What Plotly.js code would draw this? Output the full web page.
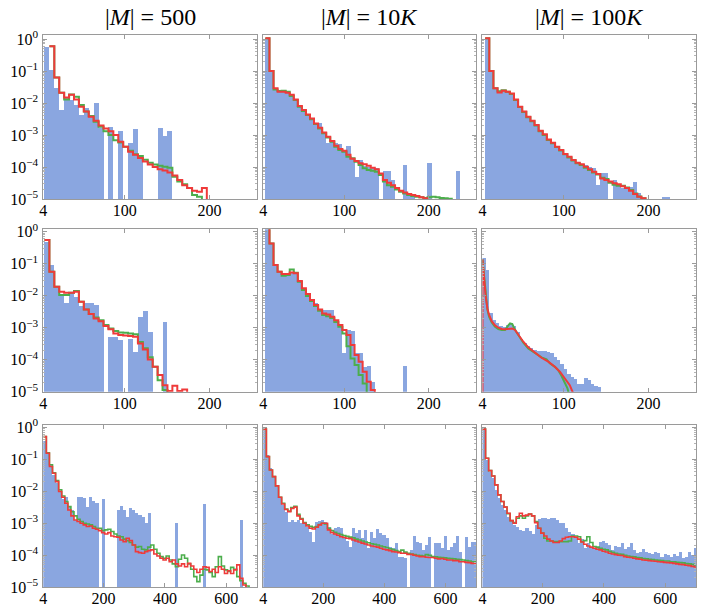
<!DOCTYPE html>
<html><head><meta charset="utf-8">
<script src="https://cdn.plot.ly/plotly-3.0.1.min.js"></script>
<style>html,body{margin:0;padding:0;background:#fff}#chart{width:713px;height:606px}</style>
</head><body><div id="chart"></div>
<script>
// ---------- labels ----------
const colTitles = ['|<i>M</i>| = 500', '|<i>M</i>| = 10<i>K</i>', '|<i>M</i>| = 100<i>K</i>'];
const yTickVals = [1e-5, 1e-4, 1e-3, 1e-2, 1e-1, 1];
const yTickText = ['10<sup>−5</sup>', '10<sup>−4</sup>', '10<sup>−3</sup>', '10<sup>−2</sup>', '10<sup>−1</sup>', '10<sup>0</sup>'];
const xTicksShort = [4, 100, 200];
const xTicksLong = [4, 200, 400, 600];

// ---------- row 1 ----------
const blue11 = [0.575, 0.107, 0.029, 0.006, 0.0158, 0.0123, 0.0087, 0.0042, 0.0068, 0.0042, 0.0098, 0.0016, null, 0.0018, null, 0.0013, null, 5.5e-4, 0.0015, 2.1e-4, null, null, null, 0.0017, 9.3e-4, 0.0013];
const green11 = [null, 0.6, 0.063, 0.021, 0.013, 0.0186, 0.0158, 0.0087, 0.0054, 0.0039, 0.0026, 0.0018, 0.0013, 0.001, 6.9e-4, 5.8e-4, 4.3e-4, 3.2e-4, 2.5e-4, 2.2e-4, 1.7e-4, 1.36e-4, 1.2e-4, 1.1e-4, 1.02e-4, 9.5e-5, 5.0e-5, 3.5e-5, 2.9e-5, 2.2e-5, 1.33e-5, 1.18e-5];
const red11 = [null, 0.6, 0.063, 0.021, 0.015, 0.018, 0.013, 0.0077, 0.0054, 0.0037, 0.0028, 0.002, 0.0016, 0.0013, 0.001, 6.2e-4, 4.3e-4, 3.0e-4, 2.4e-4, 1.9e-4, 1.5e-4, 1.2e-4, 1.0e-4, 8.5e-5, 7.8e-5, 6.7e-5, 5.4e-5, 3.9e-5, 2.7e-5, 2.2e-5, 1.8e-5, 1.7e-5, 2.2e-5];

const blue12 = [1.05, 0.1, 0.029, 0.0226, 0.0226, 0.021, 0.018, 0.013, 0.008, 0.006, 0.0044, 0.0033, 0.0023, 0.0023, 0.0012, 5.5e-4, 6.2e-4, 5.5e-4, 5.2e-4, 3.4e-4, 4.6e-4, 1.8e-4, 5.0e-5, 1.66e-4, 1.1e-4, 1.02e-4, 1.02e-4, 9.1e-5, null, 7.5e-5, 7.5e-5, 3.9e-5, null, null, 1.15e-4, 1.33e-5, 1.18e-5, null, null, null, 1.3e-4, null, null, null, null, null, null, 7.5e-5];
const green12 = [1.05, 0.1, 0.0267, 0.0237, 0.0243, 0.0226, 0.0166, 0.0124, 0.0077, 0.0056, 0.0042, 0.0031, 0.0022, 0.0016, 0.00113, 8.3e-4, 6.2e-4, 4.3e-4, 3.4e-4, 3.0e-4, 2.1e-4, 1.87e-4, 1.47e-4, 1.15e-4, 9.1e-5, 8.1e-5, 7.7e-5, 7.1e-5, 5.6e-5, 3.5e-5, 2.7e-5, 2.4e-5, 2.0e-5, 1.7e-5, 1.5e-5, 1.33e-5, 1.24e-5, 1.18e-5, 1.13e-5, 1.07e-5, 1.13e-5, 1.18e-5, 1.13e-5, 1.07e-5, 1.05e-5, 1.02e-5];
const red12 = [1.05, 0.1, 0.029, 0.0226, 0.0226, 0.021, 0.018, 0.013, 0.008, 0.006, 0.0044, 0.0033, 0.0023, 0.0017, 0.0012, 8.9e-4, 6.5e-4, 4.6e-4, 3.65e-4, 3.2e-4, 2.4e-4, 1.8e-4, 1.54e-4, 1.3e-4, 1.21e-4, 1.1e-4, 9.5e-5, 8.5e-5, 6.3e-5, 3.9e-5, 3.2e-5, 2.7e-5, 2.2e-5, 1.8e-5, 1.6e-5, 1.43e-5, 1.33e-5, 1.24e-5, 1.13e-5, 1.05e-5];

const blue13 = [1.05, 0.1, 0.029, 0.022, 0.024, 0.023, 0.02, 0.013, 0.0077, 0.0055, 0.0038, 0.0028, 0.0021, 0.0014, 0.0011, 7.5e-4, 5.8e-4, 4.4e-4, 3.4e-4, 2.6e-4, 2.1e-4, 1.7e-4, 1.4e-4, 1.2e-4, 1.15e-4, 1.02e-4, 9.1e-5, 2.7e-5, 6.3e-5, 6.3e-5, null, 3.9e-5, 2.7e-5, 2.2e-5, 2.4e-5, 2.4e-5, 3.5e-5, 1.5e-5, null, null, null, null, null, 1.18e-5, 1.13e-5];
const green13 = [1.05, 0.1, 0.0287, 0.0235, 0.025, 0.0226, 0.019, 0.0125, 0.0075, 0.0052, 0.0036, 0.0027, 0.002, 0.0013, 0.001, 7.0e-4, 5.5e-4, 4.2e-4, 3.3e-4, 2.5e-4, 2.0e-4, 1.6e-4, 1.3e-4, 1.15e-4, 9.5e-5, 8.0e-5, 6.8e-5, 5.8e-5, 4.6e-5, 4.2e-5, 3.2e-5, 2.8e-5, 2.6e-5, 2.6e-5, 2.3e-5, 1.9e-5, 1.5e-5, 1.2e-5, 1.05e-5];
const red13 = [1.05, 0.1, 0.0287, 0.0215, 0.0243, 0.0226, 0.02, 0.013, 0.0077, 0.0054, 0.0037, 0.0028, 0.00205, 0.00136, 0.00105, 7.3e-4, 5.75e-4, 4.3e-4, 3.4e-4, 2.55e-4, 2.1e-4, 1.66e-4, 1.36e-4, 1.21e-4, 1.02e-4, 8.5e-5, 7.1e-5, 6.0e-5, 4.4e-5, 3.9e-5, 3.5e-5, 3.1e-5, 2.9e-5, 2.5e-5, 2.2e-5, 1.8e-5, 1.43e-5, 1.18e-5, 1.05e-5];

// ---------- row 2 ----------
const blue21 = [0.49, 0.091, 0.019, 0.0105, 0.0058, 0.0124, 0.0093, 0.0048, 0.0058, 0.0058, 0.0051, 0.0017, null, 5.0e-4, 5.0e-4, 4.1e-4, null, 4.3e-4, 1.8e-4, 0.0022, 0.0034, 7.3e-4, null, null, 0.0015];
const green21 = [0.55, 0.056, 0.019, 0.0105, 0.0105, 0.0124, 0.014, 0.0065, 0.0037, 0.0027, 0.0021, 0.0017, 0.00121, 9.5e-4, 7.9e-4, 7.1e-4, 7.0e-4, 6.65e-4, 6.3e-4, 3.6e-4, 2.3e-4, 1.2e-4, 6.0e-5, 2.3e-5, 1.13e-5];
const red21 = [0.55, 0.056, 0.019, 0.0133, 0.0124, 0.0124, 0.0133, 0.0065, 0.0037, 0.0027, 0.00195, 0.0016, 0.00113, 8.9e-4, 6.65e-4, 5.9e-4, 5.75e-4, 5.5e-4, 5.2e-4, 3.2e-4, 2.1e-4, 1.02e-4, 6.0e-5, 3.3e-5, 1.6e-5, 1.05e-5, 1.54e-5, 1.05e-5, 1.18e-5];

const blue22 = [1.43, 0.43, 0.091, 0.056, 0.0475, 0.0475, 0.05, 0.05, 0.0287, 0.017, 0.0113, 0.0073, 0.0058, 0.0037, 0.0037, 0.0036, 0.0036, 0.0017, 0.00121, 1.58e-4, 8.5e-4, 7.9e-4, 1.58e-4, 1.58e-4, 6.0e-5, 6.3e-5, 2.05e-5, null, null, null, null, null, null, null, 6.3e-5];
const green22 = [1.43, 0.43, 0.091, 0.056, 0.042, 0.044, 0.066, 0.052, 0.0275, 0.015, 0.0098, 0.0068, 0.0048, 0.0034, 0.0025, 0.0023, 0.002, 0.0015, 0.00107, 6.65e-4, 2.65e-4, 1.1e-4, 6.8e-5, 3.3e-5, 1.8e-5];
const red22 = [1.43, 0.43, 0.091, 0.056, 0.0475, 0.0475, 0.0536, 0.05, 0.0287, 0.017, 0.0113, 0.0073, 0.0051, 0.0037, 0.0028, 0.0026, 0.0022, 0.0017, 0.00121, 8.5e-4, 5.9e-4, 2.9e-4, 1.4e-4, 8.7e-5, 4.2e-5, 2.05e-5, 1.13e-5];

const blue23 = [0.154, 0.063, 0.0028, 0.0018, 0.00136, 0.00113, 0.00107, 0.00121, 0.00136, 0.00113, 7.5e-4, 4.6e-4, 3.4e-4, 2.67e-4, 2.26e-4, 2.0e-4, 1.9e-4, 1.87e-4, 1.82e-4, 1.74e-4, 1.58e-4, 1.24e-4, 9.8e-5, 7.1e-5, 5.0e-5, 3.6e-5, 2.9e-5, 2.5e-5, 1.8e-5, 1.74e-5, 2.7e-5, 2.4e-5, 1.74e-5, 1.54e-5, 1.43e-5];
const green23Size = [4, 5.1, 6.3, 7.8, 9.8, 11.8, 14.9, 18.8, 22.7, 26.7, 30.6, 34.5, 36.5, 39.2, 41.6, 46.3, 52.2, 58, 65.9, 73.7, 79.6, 83.5, 89.4, 93.3, 97.3, 101.2, 104.3, 106.3];
const green23 = [0.136, 0.063, 0.0243, 0.0089, 0.0037, 0.0022, 0.00147, 0.00107, 9.1e-4, 8.5e-4, 8.5e-4, 0.00118, 0.00136, 0.0013, 9.5e-4, 5.9e-4, 3.4e-4, 2.26e-4, 1.58e-4, 1.18e-4, 1.02e-4, 7.7e-5, 6.0e-5, 4.75e-5, 3.1e-5, 1.8e-5, 1.27e-5, 8e-6];
const red23Size = [4, 4, 5.1, 6.3, 7.8, 9.8, 11.8, 14.9, 18.8, 22.7, 26.7, 30.6, 34.5, 39.2, 42.4, 46.3, 52.2, 58, 65.9, 73.7, 81.6, 89.4, 95.3, 101.2, 107, 111.8];
const red23 = [5e-6, 0.136, 0.063, 0.0243, 0.0093, 0.004, 0.0025, 0.0016, 0.00118, 0.001, 9.1e-4, 8.9e-4, 9.3e-4, 9.5e-4, 8.5e-4, 5.9e-4, 3.65e-4, 2.43e-4, 1.66e-4, 1.15e-4, 8.7e-5, 6.0e-5, 4.2e-5, 2.6e-5, 1.6e-5, 8e-6];

// ---------- row 3 ----------
const blue31 = [0.36, 0.17, 0.067, 0.032, 0.018, 0.0098, 0.0056, 0.0065, 0.0033, 0.0026, 0.00127, 0.0065, 0.0065, 0.006, 0.0033, 0.0065, 0.0048, 0.0042, null, 0.0058, null, null, null, null, 0.0026, 0.0035, 0.0026, 0.0016, 0.0029, 0.0026, 0.00205, 0.0018, 0.0016, 0.001, 0.00205, null, null, null, null, null, null, null, null, 0.001, null, null, null, null, null, null, null, null, 0.004, null, null, null, null, null, null, null, null, null, null, null, 0.00127, null, null, null, null, null];
const green31 = [0.51, 0.16, 0.067, 0.038, 0.0215, 0.011, 0.0071, 0.0048, 0.0033, 0.0023, 0.0017, 0.00133, 0.00113, 0.001, 9.5e-4, 8.9e-4, 7.9e-4, 7.0e-4, 7.0e-4, 5.9e-4, 6.2e-4, 6.5e-4, 5.5e-4, 4.6e-4, 4.0e-4, 3.8e-4, 3.2e-4, 2.87e-4, 2.5e-4, 2.1e-4, 1.8e-4, 1.87e-4, 1.54e-4, 1.47e-4, 1.8e-4, 2.1e-4, 1.54e-4, 1.15e-4, 9.1e-5, 8.1e-5, 9.5e-5, 7.1e-5, 5.4e-5, 4.4e-5, 7.5e-5, 1.02e-4, 8.1e-5, 5.4e-5, 3.65e-5, 2.15e-5, 1.5e-5, 2.4e-5, 3.65e-5, 3.5e-5, 2.9e-5, 2.15e-5, 4.4e-5, 9.1e-5, 4.6e-5, 3.5e-5, 3.1e-5, 4.2e-5, 3.65e-5, 2.15e-5, 1.6e-5, 1.33e-5, 1.1e-5];
const red31 = [0.51, 0.154, 0.059, 0.0365, 0.02, 0.0098, 0.0065, 0.0042, 0.0026, 0.0017, 0.00127, 0.00113, 0.001, 8.9e-4, 7.9e-4, 8.2e-4, 7.0e-4, 6.5e-4, 5.9e-4, 5.1e-4, 4.6e-4, 5.1e-4, 4.0e-4, 3.8e-4, 3.65e-4, 3.0e-4, 2.67e-4, 3.4e-4, 2.87e-4, 2.1e-4, 1.3e-4, 1.21e-4, 1.15e-4, 1.3e-4, 1.4e-4, 1.47e-4, 1.1e-4, 9.5e-5, 8.1e-5, 7.1e-5, 8.1e-5, 6.3e-5, 7.1e-5, 5.4e-5, 4.6e-5, 5.4e-5, 4.4e-5, 5.6e-5, 4.6e-5, 3.65e-5, 2.9e-5, 3.65e-5, 4.4e-5, 4.2e-5, 3.1e-5, 3.65e-5, 2.9e-5, 4.4e-5, 3.65e-5, 2.7e-5, 3.3e-5, 2.7e-5, 3.5e-5, 5.0e-5, 1.9e-5, 1.18e-5];

const blue32 = [0.87, 0.136, 0.052, 0.0287, 0.014, 0.0065, 0.0037, 0.0023, 0.00113, 0.00127, 0.00113, 0.00127, 0.001, 9.5e-4, 7.9e-4, 5.5e-4, 2.67e-4, 0.00113, 0.00121, 0.00127, 0.00113, 7.9e-4, 4.6e-4, 7.0e-4, 7.5e-4, 7.0e-4, 3.4e-4, 2.87e-4, 1.87e-4, 7.0e-4, 4.9e-4, 6.2e-4, 3.4e-4, 6.2e-4, 1.66e-4, 5.5e-4, 3.4e-4, 6.5e-4, 5.1e-4, 4.3e-4, 3.4e-4, 1.87e-4, 1.66e-4, 2.5e-4, 9.1e-5, 9.1e-5, 8.1e-5, null, 1.47e-4, 4.0e-4, 2.67e-4, 2.4e-4, 1.47e-4, 2.1e-4, 3.8e-4, null, 2.4e-4, 2.5e-4, 1.66e-4, 4.0e-4, 1.47e-4, 1.87e-4, 2.4e-4, 4.0e-4, 1.3e-4, null, 3.8e-4, 1.87e-4, 2.67e-4, 2.67e-4];
const green32 = [0.87, 0.121, 0.046, 0.0287, 0.0147, 0.0065, 0.0042, 0.0028, 0.0024, 0.0031, 0.0034, 0.0019, 0.0014, 0.00105, 8.9e-4, 8.0e-4, 7.5e-4, 7.9e-4, 9.1e-4, 0.001, 9.5e-4, 7.0e-4, 5.9e-4, 5.2e-4, 4.8e-4, 4.4e-4, 4.1e-4, 3.9e-4, 3.7e-4, 3.5e-4, 3.2e-4, 3.0e-4, 2.8e-4, 2.6e-4, 2.45e-4, 2.3e-4, 2.2e-4, 2.1e-4, 1.95e-4, 1.85e-4, 1.75e-4, 1.6e-4, 1.5e-4, 1.4e-4, 1.3e-4, 1.45e-4, 1.25e-4, 1.15e-4, 1.1e-4, 1.05e-4, 1.0e-4, 9.8e-5, 9.5e-5, 1.05e-4, 1.0e-4, 9.1e-5, 8.9e-5, 8.7e-5, 8.5e-5, 8.3e-5, 8.1e-5, 7.9e-5, 7.7e-5, 7.5e-5, 7.3e-5, 7.1e-5, 6.8e-5, 6.6e-5, 6.3e-5, 6.3e-5];
const red32 = [0.87, 0.121, 0.046, 0.0287, 0.0147, 0.0065, 0.004, 0.0027, 0.0023, 0.0029, 0.0032, 0.0017, 0.00133, 0.001, 8.2e-4, 7.0e-4, 6.65e-4, 7.5e-4, 8.9e-4, 0.001, 0.001, 6.2e-4, 5.1e-4, 4.6e-4, 4.2e-4, 3.8e-4, 3.6e-4, 3.4e-4, 3.3e-4, 3.0e-4, 2.8e-4, 2.6e-4, 2.4e-4, 2.26e-4, 2.1e-4, 1.95e-4, 1.87e-4, 1.8e-4, 1.66e-4, 1.54e-4, 1.47e-4, 1.4e-4, 1.3e-4, 1.27e-4, 1.21e-4, 1.15e-4, 1.15e-4, 1.07e-4, 1.07e-4, 1.0e-4, 9.5e-5, 9.1e-5, 9.1e-5, 8.7e-5, 8.5e-5, 8.5e-5, 8.1e-5, 7.7e-5, 7.9e-5, 7.5e-5, 7.1e-5, 7.1e-5, 6.8e-5, 6.8e-5, 6.3e-5, 6.3e-5, 6.0e-5, 5.9e-5, 5.6e-5, 5.6e-5];

const blue33 = [0.87, 0.095, 0.041, 0.0255, 0.011, 0.006, 0.0037, 0.0026, 0.0016, 0.00127, 8.9e-4, 7.9e-4, 6.2e-4, 5.9e-4, 7.0e-4, 5.9e-4, 4.6e-4, 8.9e-4, 0.00133, 0.00143, 0.00143, 0.0014, 0.00143, 0.00143, 0.00127, 0.001, 0.00105, 7.0e-4, 5.5e-4, 4.6e-4, 3.4e-4, 2.4e-4, 3.2e-4, 1.66e-4, 2.4e-4, 1.87e-4, 1.66e-4, 1.87e-4, 2.67e-4, 2.87e-4, 2.4e-4, 2.1e-4, 1.47e-4, 1.95e-4, 1.8e-4, 2.4e-4, 1.54e-4, 1.87e-4, 2.5e-4, 1.47e-4, 1.15e-4, 1.3e-4, 1.54e-4, 1.3e-4, 1.15e-4, 1.1e-4, 1.3e-4, 1.15e-4, 9.1e-5, 1.1e-4, 1.02e-4, 9.1e-5, 1.1e-4, 9.5e-5, 1.3e-4, 8.1e-5, 9.1e-5, 1.3e-4, 1.02e-4, 1.66e-4];
const green33 = [0.87, 0.107, 0.044, 0.03, 0.0158, 0.0077, 0.0048, 0.0032, 0.002, 0.00121, 0.00105, 0.00143, 0.0017, 0.00143, 0.0017, 0.00195, 0.0017, 0.00113, 7.0e-4, 4.9e-4, 3.4e-4, 2.8e-4, 2.8e-4, 2.67e-4, 2.67e-4, 2.67e-4, 2.67e-4, 2.67e-4, 2.8e-4, 4.0e-4, 4.0e-4, 3.8e-4, 2.67e-4, 2.87e-4, 3.8e-4, 2.5e-4, 1.87e-4, 1.8e-4, 1.66e-4, 1.54e-4, 1.47e-4, 1.33e-4, 1.24e-4, 1.15e-4, 1.1e-4, 1.07e-4, 1.0e-4, 9.5e-5, 9.1e-5, 8.9e-5, 8.5e-5, 8.3e-5, 7.9e-5, 7.7e-5, 7.5e-5, 7.3e-5, 7.1e-5, 7.0e-5, 6.8e-5, 6.6e-5, 6.6e-5, 6.3e-5, 6.2e-5, 6.0e-5, 5.9e-5, 5.8e-5, 5.5e-5, 5.4e-5, 5.2e-5, 5.0e-5];
const red33 = [0.87, 0.107, 0.044, 0.03, 0.0158, 0.0077, 0.0048, 0.0032, 0.00205, 0.00121, 0.001, 0.0016, 0.00205, 0.0017, 0.0018, 0.00195, 0.0017, 0.00105, 7.0e-4, 4.9e-4, 4.0e-4, 3.2e-4, 2.8e-4, 2.5e-4, 2.5e-4, 2.8e-4, 3.3e-4, 3.65e-4, 3.8e-4, 3.8e-4, 3.65e-4, 3.2e-4, 2.6e-4, 2.2e-4, 1.95e-4, 1.8e-4, 1.66e-4, 1.54e-4, 1.47e-4, 1.33e-4, 1.27e-4, 1.15e-4, 1.1e-4, 1.05e-4, 1.0e-4, 9.8e-5, 9.1e-5, 8.7e-5, 8.5e-5, 8.1e-5, 7.7e-5, 7.5e-5, 7.1e-5, 7.0e-5, 6.8e-5, 6.6e-5, 6.5e-5, 6.3e-5, 6.2e-5, 6.0e-5, 5.9e-5, 5.8e-5, 5.6e-5, 5.4e-5, 5.2e-5, 5.1e-5, 4.9e-5, 4.75e-5, 4.5e-5, 4.3e-5];

// ---------- drawing ----------
const BLUE = '#8aa6e0', GREEN = '#4cae4c', RED = '#ef3a3a';
const FONT = 'Liberation Serif';
const FLOOR = 1e-7;
const xDom = [[0.0607, 0.3605], [0.3693, 0.6676], [0.6767, 0.9762]];
const yDom = [[0.6716, 0.9422], [0.3536, 0.6216], [0.0309, 0.2987]];
const yTop = [0.125, 0.075, 0.07];
const xMax = [256, 256, 700];

const panels = [
  {r:0, c:0, start:5.4, width:5.8, blue:blue11, green:green11, red:red11},
  {r:0, c:1, start:6.5, width:4.8, blue:blue12, green:green12, red:red12},
  {r:0, c:2, start:7.2, width:4.85, blue:blue13, green:green13, red:red13},
  {r:1, c:0, start:5.4, width:5.8, blue:blue21, green:green21, red:red21},
  {r:1, c:1, start:6.5, width:4.8, blue:blue22, green:green22, red:red22},
  {r:1, c:2, start:4, width:4, blue:blue23, greenXY:[green23Size, green23], redXY:[red23Size, red23]},
  {r:2, c:0, start:4, width:10, blue:blue31, green:green31, red:red31},
  {r:2, c:1, start:4, width:10, blue:blue32, green:green32, red:red32},
  {r:2, c:2, start:4, width:10, blue:blue33, green:green33, red:red33},
];

function steps(start, width, vals) {
  const xs = [], ys = [];
  vals.forEach((v, k) => { xs.push(start + width * k); ys.push(v); });
  const end = start + width * vals.length;
  xs.push(end); ys.push(vals[vals.length - 1]);
  xs.push(end); ys.push(FLOOR);
  return [xs, ys];
}

const traces = [];
const layout = {
  width: 713, height: 606, showlegend: false, bargap: 0,
  margin: {l: 0, r: 0, t: 0, b: 0},
  paper_bgcolor: '#fff', plot_bgcolor: '#fff',
  font: {family: FONT, size: 16, color: '#000'},
  annotations: []
};

const minorVals = [];
for (let e = -5; e < 1; e++) for (let m = 2; m <= 9; m++) minorVals.push(m * Math.pow(10, e));

panels.forEach((p, i) => {
  const n = i + 1, xa = 'x' + (n === 1 ? '' : n), ya = 'y' + (n === 1 ? '' : n);
  traces.push({
    type: 'bar', xaxis: xa, yaxis: ya,
    x: p.blue.map((v, k) => p.start + p.width * (k + 0.5)),
    y: p.blue, width: p.width,
    marker: {color: BLUE, line: {width: 0}}, hoverinfo: 'skip'
  });
  const g = p.greenXY ? p.greenXY : steps(p.start, p.width, p.green);
  const rr = p.redXY ? p.redXY : steps(p.start, p.width, p.red);
  const shape = p.greenXY ? 'linear' : 'hv';
  const lw = p.r === 2 ? 1.6 : 2;
  traces.push({type: 'scatter', mode: 'lines', xaxis: xa, yaxis: ya, x: g[0], y: g[1],
    line: {color: GREEN, width: lw, shape: shape}, connectgaps: false, hoverinfo: 'skip'});
  traces.push({type: 'scatter', mode: 'lines', xaxis: xa, yaxis: ya, x: rr[0], y: rr[1],
    line: {color: RED, width: lw, shape: shape}, connectgaps: false, hoverinfo: 'skip'});

  const axCommon = {showline: true, linecolor: '#9a9a9a', linewidth: 1, mirror: 'ticks',
    ticks: 'inside', ticklen: 4, tickcolor: '#9a9a9a', showgrid: false, zeroline: false,
    tickfont: {family: FONT, size: 16, color: '#000'}};
  layout['xaxis' + (n === 1 ? '' : n)] = Object.assign({}, axCommon, {
    domain: xDom[p.c], anchor: ya, range: [4, xMax[p.r]],
    tickmode: 'array', tickvals: p.r === 2 ? xTicksLong : xTicksShort,
    ticktext: (p.r === 2 ? xTicksLong : xTicksShort).map(String),
    ticklabelstandoff: -3
  });
  layout['yaxis' + (n === 1 ? '' : n)] = Object.assign({}, axCommon, {
    domain: yDom[p.r], anchor: xa, type: 'log', range: [-5, yTop[p.r]],
    tickmode: 'array', tickvals: yTickVals, ticktext: yTickText,
    showticklabels: p.c === 0, ticklabelstandoff: 1,
    minor: {tickmode: 'array', tickvals: minorVals, ticks: 'inside', ticklen: 2, tickcolor: '#b5b5b5'}
  });
});

colTitles.forEach((t, c) => {
  layout.annotations.push({text: t, xref: 'paper', yref: 'paper',
    x: (xDom[c][0] + xDom[c][1]) / 2, y: 0.972, xanchor: 'center', yanchor: 'middle',
    showarrow: false, font: {family: FONT, size: 24, color: '#000'}});
});

Plotly.newPlot('chart', traces, layout, {staticPlot: true, displayModeBar: false});
</script>
</body></html>
